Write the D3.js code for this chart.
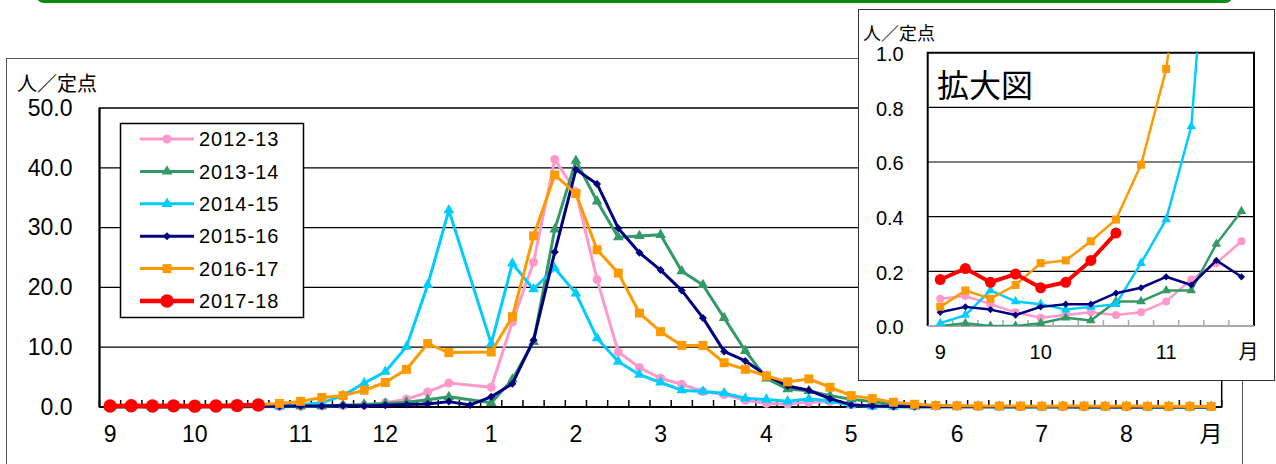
<!DOCTYPE html>
<html>
<head>
<meta charset="utf-8">
<script src="https://cdn.jsdelivr.net/npm/d3@7"></script>
<style>
body { margin: 0; background: #fff; }
svg { display: block; }
</style>
</head>
<body>
<div id="chart"></div>
<script>
// week numbers on the category axis (week 53 only exists in 2015-16)
var weeks = [36,37,38,39,40,41,42,43,44,45,46,47,48,49,50,51,52,53,
             1,2,3,4,5,6,7,8,9,10,11,12,13,14,15,16,17,18,19,20,
             21,22,23,24,25,26,27,28,29,30,31,32,33,34,35];
var monthWeeks  = [36,40,45,49,1,5,9,14,18,23,27,31,35];
var monthLabels = ["9","10","11","12","1","2","3","4","5","6","7","8","月"];

var insetWeeks  = [36,37,38,39,40,41,42,43,44,45,46,47,48];
var insetTickWeeks  = [36,40,45,48];
var insetTickLabels = ["9","10","11","月"];

var yTicks = [0,10,20,30,40,50];
var insetYTicks = [0,0.2,0.4,0.6,0.8,1.0];

var s2012_13 = [0.10,0.11,0.08,0.05,0.03,0.04,0.05,0.04,0.05,0.09,0.17,0.23,0.31,
  0.7,1.3,2.5,4.0,null,3.3,14.2,24.2,41.4,36.0,21.3,9.2,6.6,4.8,3.8,2.6,2.1,1.1,0.6,0.5,0.8,0.9,0.4,0.2,
  0.15,0.3,0.25,0.2,0.1,0.07,0.06,0.05,0.05,0.04,0.05,0.04,0.03,0.03,0.02,0.03];
var s2013_14 = [0.00,0.01,0.00,0.00,0.01,0.03,0.02,0.09,0.09,0.13,0.13,0.30,0.42,
  0.6,0.8,1.2,1.7,null,0.7,4.6,10.9,29.7,41.2,34.4,28.4,28.6,28.8,22.7,20.4,14.9,9.4,4.8,3.0,2.7,1.9,1.3,0.9,
  0.4,0.2,0.15,0.1,0.08,0.06,0.05,0.05,0.04,0.03,0.03,0.02,0.02,0.02,0.01,0.01];
var s2014_15 = [0.01,0.04,0.13,0.09,0.08,0.06,0.07,0.08,0.23,0.39,0.73,1.9,4.0,
  5.9,10.1,20.4,32.9,null,10.6,24.0,19.7,23.2,19.0,11.5,7.6,5.4,4.1,2.8,2.6,2.3,1.45,1.25,0.95,1.35,1.05,0.3,0.1,
  0.05,0.05,0.04,0.03,0.03,0.02,0.02,0.03,0.02,0.02,0.01,0.02,0.01,0.01,0.01,0.01];
var s2015_16 = [0.05,0.07,0.06,0.04,0.07,0.08,0.08,0.12,0.14,0.18,0.15,0.24,0.18,
  0.3,0.4,0.5,0.9,0.35,1.7,3.9,11.2,25.9,39.7,37.3,29.9,25.8,22.9,19.5,14.9,9.3,7.7,5.3,3.5,2.8,1.4,0.35,0.15,
  0.08,0.06,0.05,0.05,0.04,0.04,0.03,0.03,0.03,0.02,0.02,0.02,0.02,0.01,0.01,0.01];
var s2016_17 = [0.07,0.13,0.10,0.15,0.23,0.24,0.31,0.39,0.59,0.94,1.6,1.9,2.8,
  4.1,6.3,10.6,9.1,null,9.2,15.1,28.6,38.8,35.7,26.3,22.4,15.7,12.6,10.3,10.3,7.4,6.3,5.2,4.2,4.7,3.3,1.9,1.4,
  0.8,0.45,0.25,0.2,0.18,0.15,0.15,0.12,0.15,0.15,0.12,0.15,0.12,0.12,0.1,0.1];
var s2017_18 = [0.17,0.21,0.16,0.19,0.14,0.16,0.24,0.34];

var seriesNames = ["2012-13","2013-14","2014-15","2015-16","2016-17","2017-18"];
var seriesValues = [s2012_13, s2013_14, s2014_15, s2015_16, s2016_17, s2017_18];
var seriesColors = ["#ff99cc","#339966","#00ccff","#000080","#ff9900","#ff0000"];
var seriesShapes = ["circle","triangle","triangle","diamond","square","circle"];

var numFont = "'Liberation Sans', Arial, sans-serif";
var jpFont = "'Noto Sans CJK JP', sans-serif";

var series = seriesNames.map(function(name, k) {
    return {
        name: name,
        color: seriesColors[k],
        shape: seriesShapes[k],
        big: k == 5,
        points: seriesValues[k].map(function(v, i) { return {week: weeks[i], value: v}; })
            .filter(function(d) { return d.value != null; })
    };
});

var svg = d3.select("#chart").append("svg")
    .attr("width", 1276)
    .attr("height", 464);

// green strip of the page header above
svg.append("rect")
    .attr("x", 36).attr("y", -14)
    .attr("width", 1197).attr("height", 17)
    .attr("rx", 8)
    .attr("fill", "#0b8a0b");

// outer frame
svg.append("rect")
    .attr("x", 6.5).attr("y", 58.5)
    .attr("width", 1236).attr("height", 430)
    .attr("fill", "none")
    .attr("stroke", "#555");

function markerPath(shape, size) {
    var t = shape == "circle" ? d3.symbolCircle
          : shape == "triangle" ? d3.symbolTriangle
          : d3.symbolSquare;
    return d3.symbol().type(t).size(size)();
}

function markerSize(s, main) {
    if (s.shape == "circle") return s.big ? (main ? 140 : 95) : (main ? 64 : 50);
    if (s.shape == "triangle") return main ? 50 : 40;
    if (s.shape == "diamond") return main ? 32 : 26;
    return main ? 81 : 64;
}

function drawSeries(g, x, y, main, clipId) {
    var line = d3.line()
        .x(d => x(d.week) + x.bandwidth() / 2)
        .y(d => y(d.value));

    var layer = g.append("g");
    if (clipId) layer.attr("clip-path", "url(#" + clipId + ")");

    series.forEach(function(s) {
        var pts = main ? s.points : s.points.filter(d => insetWeeks.indexOf(d.week) >= 0);
        layer.append("path")
            .datum(pts)
            .attr("d", line)
            .attr("fill", "none")
            .attr("stroke", s.color)
            .attr("stroke-width", s.big ? (main ? 4.5 : 4) : (main ? 3 : 2.5))
            .attr("stroke-linejoin", "round");

        layer.selectAll(null)
            .data(pts)
            .enter().append("path")
            .attr("d", markerPath(s.shape, markerSize(s, main)))
            .attr("transform", d => "translate(" + (x(d.week) + x.bandwidth() / 2) + "," + y(d.value) + ")" +
                (s.shape == "diamond" ? " rotate(45)" : ""))
            .attr("fill", s.color);
    });
}

// ---------- main chart ----------
var plot = {left: 99.5, right: 1221.7, top: 108, bottom: 407};

var x = d3.scaleBand()
    .domain(weeks)
    .range([plot.left, plot.right]);

var y = d3.scaleLinear()
    .domain([0, 50])
    .range([plot.bottom, plot.top]);

var main = svg.append("g");

main.selectAll(".grid")
    .data(yTicks.slice(1, 5))
    .enter().append("line")
    .attr("x1", plot.left).attr("x2", plot.right)
    .attr("y1", d => y(d)).attr("y2", d => y(d))
    .attr("stroke", "#000")
    .attr("stroke-width", 1.2);

main.append("rect")
    .attr("x", plot.left).attr("y", plot.top)
    .attr("width", plot.right - plot.left).attr("height", plot.bottom - plot.top)
    .attr("fill", "none")
    .attr("stroke", "#000")
    .attr("stroke-width", 1.5);

main.append("line")
    .attr("x1", plot.left).attr("x2", plot.left)
    .attr("y1", plot.top).attr("y2", plot.bottom)
    .attr("stroke", "#000").attr("stroke-width", 2);

var yAxis = main.append("g")
    .attr("transform", "translate(" + plot.left + ",0)")
    .call(d3.axisLeft(y).tickValues(yTicks).tickFormat(d3.format(".1f")).tickSize(0).tickPadding(27));
yAxis.select(".domain").remove();
yAxis.selectAll("text")
    .style("font-family", numFont)
    .style("font-size", "23px")
    .attr("fill", "#000");

var xAxis = main.append("g")
    .attr("transform", "translate(0," + plot.bottom + ")")
    .call(d3.axisBottom(x).tickValues(monthWeeks)
        .tickFormat(d => monthLabels[monthWeeks.indexOf(d)])
        .tickSize(0).tickPadding(19));
xAxis.select(".domain").remove();
xAxis.selectAll("text")
    .style("font-family", d => d == 35 ? jpFont : numFont)
    .style("font-size", "23px")
    .attr("fill", "#000");

// tick marks between categories, pointing up into the plot
main.selectAll(".xtick")
    .data(weeks.map(w => x(w)).concat([plot.right]))
    .enter().append("line")
    .attr("x1", d => d).attr("x2", d => d)
    .attr("y1", plot.bottom).attr("y2", plot.bottom - 7)
    .attr("stroke", "#000").attr("stroke-width", 1.5);

main.append("line")
    .attr("x1", plot.left).attr("x2", plot.right)
    .attr("y1", plot.bottom).attr("y2", plot.bottom)
    .attr("stroke", "#000").attr("stroke-width", 2);

main.append("text")
    .attr("x", 17).attr("y", 91)
    .style("font-family", jpFont)
    .style("font-size", "20px")
    .text("人／定点");

drawSeries(main, x, y, true, null);

// legend
var legend = svg.append("g");
legend.append("rect")
    .attr("x", 120.5).attr("y", 123.5)
    .attr("width", 183).attr("height", 194)
    .attr("fill", "#fff")
    .attr("stroke", "#000")
    .attr("stroke-width", 1.5);

var rows = legend.selectAll(".row")
    .data(series)
    .enter().append("g")
    .attr("transform", (d, i) => "translate(0," + (139 + i * 32.4) + ")");
rows.append("line")
    .attr("x1", 140).attr("x2", 194)
    .attr("stroke", d => d.color)
    .attr("stroke-width", d => d.big ? 4.5 : 3);
rows.append("path")
    .attr("d", d => markerPath(d.shape, markerSize(d, true)))
    .attr("transform", d => "translate(167,0)" + (d.shape == "diamond" ? " rotate(45)" : ""))
    .attr("fill", d => d.color);
rows.append("text")
    .attr("x", 199).attr("dy", "0.36em")
    .style("font-family", numFont)
    .style("font-size", "20px")
    .style("letter-spacing", "1px")
    .text(d => d.name);

// ---------- inset (enlarged view) ----------
var inset = svg.append("g");
inset.append("rect")
    .attr("x", 858.5).attr("y", 9.5)
    .attr("width", 416).attr("height", 371)
    .attr("fill", "#fff")
    .attr("stroke", "#333");

var ip = {left: 927.7, right: 1254, top: 52.7, bottom: 326};

var ix = d3.scaleBand()
    .domain(insetWeeks)
    .range([ip.left, ip.right]);

var iy = d3.scaleLinear()
    .domain([0, 1])
    .range([ip.bottom, ip.top]);

inset.append("clipPath").attr("id", "insetClip")
    .append("rect")
    .attr("x", ip.left).attr("y", ip.top)
    .attr("width", ip.right - ip.left).attr("height", ip.bottom - ip.top);

inset.selectAll(".igrid")
    .data(insetYTicks.slice(1, 5))
    .enter().append("line")
    .attr("x1", ip.left).attr("x2", ip.right)
    .attr("y1", d => iy(d)).attr("y2", d => iy(d))
    .attr("stroke", "#000")
    .attr("stroke-width", 1.2);

inset.append("text")
    .attr("x", 937).attr("y", 97)
    .style("font-family", jpFont)
    .style("font-size", "32px")
    .text("拡大図");

var iyAxis = inset.append("g")
    .attr("transform", "translate(" + ip.left + ",1.5)")
    .call(d3.axisLeft(iy).tickValues(insetYTicks).tickFormat(d3.format(".1f")).tickSize(0).tickPadding(24));
iyAxis.select(".domain").remove();
iyAxis.selectAll("text")
    .style("font-family", numFont)
    .style("font-size", "20px")
    .attr("fill", "#000");

var ixAxis = inset.append("g")
    .attr("transform", "translate(0," + ip.bottom + ")")
    .call(d3.axisBottom(ix).tickValues(insetTickWeeks)
        .tickFormat(d => insetTickLabels[insetTickWeeks.indexOf(d)])
        .tickSize(0).tickPadding(19));
ixAxis.select(".domain").remove();
ixAxis.selectAll("text")
    .style("font-family", d => d == 48 ? jpFont : numFont)
    .style("font-size", "20px")
    .attr("dx", d => d == 48 ? 7 : 0)
    .attr("fill", "#000");

inset.selectAll(".itick")
    .data(insetWeeks.map(w => ix(w)).concat([ip.right]))
    .enter().append("line")
    .attr("x1", d => d).attr("x2", d => d)
    .attr("y1", ip.bottom).attr("y2", ip.bottom - 6)
    .attr("stroke", "#aaa").attr("stroke-width", 1.5);

inset.append("path")
    .attr("d", "M" + ip.left + "," + ip.bottom + "V" + ip.top + "H" + ip.right + "V" + ip.bottom)
    .attr("fill", "none")
    .attr("stroke", "#000")
    .attr("stroke-width", 2);

inset.append("line")
    .attr("x1", ip.left).attr("x2", ip.right)
    .attr("y1", ip.bottom).attr("y2", ip.bottom)
    .attr("stroke", "#aaa").attr("stroke-width", 2);

inset.append("text")
    .attr("x", 863).attr("y", 39.5)
    .style("font-family", jpFont)
    .style("font-size", "18px")
    .text("人／定点");

drawSeries(inset, ix, iy, false, "insetClip");
</script>
</body>
</html>
